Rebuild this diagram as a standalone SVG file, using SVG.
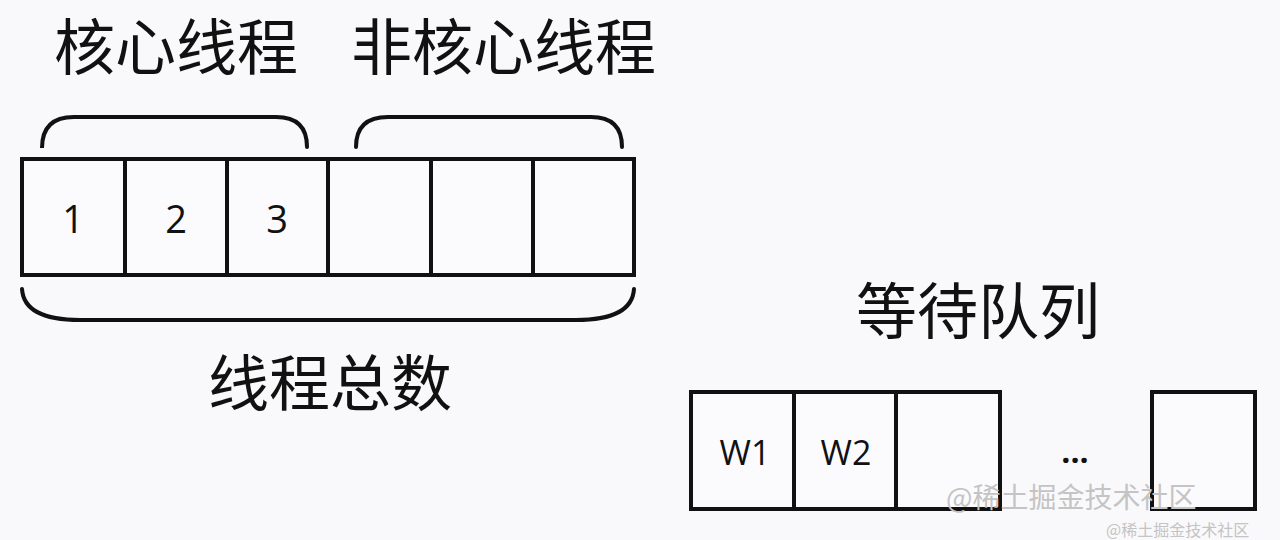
<svg xmlns="http://www.w3.org/2000/svg" width="1280" height="540" viewBox="0 0 1280 540">
<style>
.cell{fill:#fbfbfd;stroke:#111;stroke-width:4}
.brace{fill:none;stroke:#111;stroke-width:4;stroke-linecap:round}
.cjk{font-family:"Noto Sans CJK SC","Noto Sans",sans-serif;fill:#111}
.num{font-family:"Open Sans","Liberation Sans",sans-serif;fill:#111;text-anchor:middle}
.wm{font-family:"Noto Sans CJK SC",sans-serif;fill:#c4c4c4}
</style>
<rect width="1280" height="540" fill="#f9f9fb"/>
<text class="cjk" x="54" y="70" font-size="61">核心线程</text>
<text class="cjk" x="351" y="70" font-size="61">非核心线程</text>
<g id="connectors">
<path class="brace" d="M42,147 V148 Q42,117 74,117 H276 Q307,117 307,147"/>
<path class="brace" d="M356,147 Q356,117 388,117 H591 Q622,117 622,147"/>
<path class="brace" d="M22,289 Q24,320 80,320 H576 Q632,320 634,289"/>
</g>
<g id="thread-1"><rect class="cell" x="22" y="159" width="103" height="116"/><text class="num" x="73" y="233" font-size="38">1</text></g>
<g id="thread-2"><rect class="cell" x="125" y="159" width="102" height="116"/><text class="num" x="176" y="233" font-size="38">2</text></g>
<g id="thread-3"><rect class="cell" x="227" y="159" width="101" height="116"/><text class="num" x="277" y="233" font-size="38">3</text></g>
<g id="thread-4"><rect class="cell" x="328" y="159" width="103" height="116"/></g>
<g id="thread-5"><rect class="cell" x="431" y="159" width="102" height="116"/></g>
<g id="thread-6"><rect class="cell" x="533" y="159" width="101" height="116"/></g>
<text class="cjk" x="208" y="406" font-size="61">线程总数</text>
<text class="cjk" x="856" y="334" font-size="61">等待队列</text>
<g id="wait-1"><rect class="cell" x="691" y="392" width="103" height="117"/><text class="num" x="745" y="465" font-size="34">W1</text></g>
<g id="wait-2"><rect class="cell" x="794" y="392" width="102" height="117"/><text class="num" x="846" y="465" font-size="34">W2</text></g>
<g id="wait-3"><rect class="cell" x="896" y="392" width="104" height="117"/></g>
<text class="num" x="1075" y="463" font-size="32" font-weight="bold">...</text>
<g id="wait-n"><rect class="cell" x="1152" y="392" width="103" height="117"/></g>
<text class="wm" x="946" y="508" font-size="28">@稀土掘金技术社区</text>
<text class="wm" x="1106" y="536" font-size="16" fill="#b8b8b8">@稀土掘金技术社区</text>
</svg>
